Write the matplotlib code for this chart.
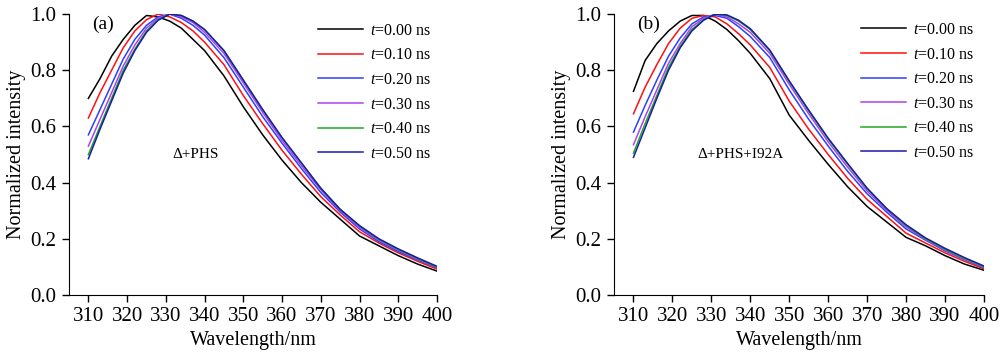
import matplotlib
matplotlib.use("Agg")
import matplotlib.pyplot as plt

plt.rcParams['font.family'] = ['Liberation Serif', 'DejaVu Serif']
plt.rcParams['mathtext.fontset'] = 'custom'
plt.rcParams['mathtext.rm'] = 'Liberation Serif'
plt.rcParams['mathtext.it'] = 'Liberation Serif:italic'

wavelength = [310, 313, 316, 319, 322, 325, 328, 331, 334, 337, 340, 345, 350,
              355, 360, 365, 370, 375, 380, 385, 390, 395, 400]

times = ["0.00", "0.10", "0.20", "0.30", "0.40", "0.50"]
colors = ["#000000", "#ff1010", "#2a40ff", "#b040f0", "#20a820", "#1a1aa8"]

# panel (a)  Delta+PHS
a_t000 = [0.70, 0.77, 0.85, 0.91, 0.96, 0.995, 0.99, 0.975, 0.95, 0.91, 0.87, 0.78, 0.67,
          0.57, 0.48, 0.40, 0.33, 0.27, 0.21, 0.175, 0.14, 0.11, 0.085]
a_t010 = [0.63, 0.72, 0.80, 0.88, 0.94, 0.98, 1.0, 0.99, 0.97, 0.94, 0.90, 0.82, 0.71,
          0.61, 0.515, 0.43, 0.35, 0.285, 0.225, 0.185, 0.15, 0.12, 0.092]
a_t020 = [0.57, 0.66, 0.75, 0.84, 0.91, 0.96, 0.99, 1.0, 0.985, 0.96, 0.925, 0.845, 0.74,
          0.635, 0.54, 0.45, 0.365, 0.295, 0.235, 0.19, 0.155, 0.125, 0.097]
a_t030 = [0.53, 0.625, 0.72, 0.815, 0.89, 0.95, 0.985, 1.0, 0.99, 0.97, 0.935, 0.86, 0.755,
          0.65, 0.55, 0.46, 0.375, 0.30, 0.24, 0.195, 0.16, 0.128, 0.099]
a_t040 = [0.50, 0.60, 0.70, 0.80, 0.875, 0.94, 0.98, 1.0, 0.995, 0.975, 0.945, 0.87, 0.765,
          0.66, 0.56, 0.47, 0.38, 0.305, 0.245, 0.198, 0.162, 0.13, 0.10]
a_t050 = [0.485, 0.59, 0.69, 0.79, 0.87, 0.935, 0.978, 1.0, 0.995, 0.975, 0.945, 0.87, 0.765,
          0.66, 0.56, 0.47, 0.38, 0.305, 0.247, 0.20, 0.164, 0.132, 0.102]

# panel (b)  Delta+PHS+I92A
b_t000 = [0.725, 0.835, 0.895, 0.94, 0.975, 0.995, 0.995, 0.975, 0.945, 0.905, 0.86, 0.77, 0.64,
          0.55, 0.465, 0.385, 0.315, 0.26, 0.205, 0.175, 0.14, 0.11, 0.088]
b_t010 = [0.645, 0.74, 0.82, 0.895, 0.95, 0.985, 0.995, 0.99, 0.965, 0.93, 0.89, 0.81, 0.69,
          0.59, 0.50, 0.415, 0.34, 0.28, 0.22, 0.185, 0.15, 0.12, 0.093]
b_t020 = [0.58, 0.675, 0.765, 0.85, 0.915, 0.965, 0.99, 0.995, 0.985, 0.955, 0.92, 0.845, 0.73,
          0.625, 0.53, 0.44, 0.36, 0.295, 0.235, 0.195, 0.157, 0.126, 0.097]
b_t030 = [0.535, 0.635, 0.73, 0.825, 0.895, 0.955, 0.985, 1.0, 0.99, 0.965, 0.935, 0.86, 0.75,
          0.645, 0.545, 0.455, 0.37, 0.302, 0.242, 0.198, 0.16, 0.128, 0.099]
b_t040 = [0.505, 0.61, 0.71, 0.81, 0.885, 0.945, 0.98, 1.0, 0.995, 0.975, 0.945, 0.87, 0.76,
          0.655, 0.555, 0.465, 0.378, 0.307, 0.247, 0.20, 0.163, 0.13, 0.101]
b_t050 = [0.49, 0.595, 0.70, 0.80, 0.88, 0.94, 0.978, 1.0, 0.997, 0.978, 0.948, 0.872, 0.762,
          0.658, 0.558, 0.468, 0.38, 0.308, 0.25, 0.203, 0.166, 0.133, 0.103]

panels = [
    ("(a)", "Δ+PHS", [a_t000, a_t010, a_t020, a_t030, a_t040, a_t050]),
    ("(b)", "Δ+PHS+I92A", [b_t000, b_t010, b_t020, b_t030, b_t040, b_t050]),
]

fig = plt.figure(figsize=(10, 3.52), dpi=100)
axes_rects = [[0.069, 0.162, 0.368, 0.798], [0.614, 0.162, 0.370, 0.798]]
legend_x = [0.677, 0.668]
legend_top = [0.969, 0.972]
note_x = [0.282, 0.225]

for i, (tag, note, series) in enumerate(panels):
    ax = fig.add_axes(axes_rects[i])
    for j, y in enumerate(series):
        ax.plot(wavelength, y, color=colors[j], lw=1.1, label="$t$=" + times[j] + " ns")
    ax.set_xlim(305, 400)
    ax.set_ylim(0, 1.0)
    ax.set_xticks(range(310, 401, 10))
    ax.set_yticks([0.0, 0.2, 0.4, 0.6, 0.8, 1.0])
    ax.set_yticklabels(["0.0", "0.2", "0.4", "0.6", "0.8", "1.0"])
    ax.spines['top'].set_visible(False)
    ax.spines['right'].set_visible(False)
    ax.tick_params(direction='out', length=5, width=1, labelsize=15, pad=4)
    ax.set_xlabel("Wavelength/nm", fontsize=14.5, labelpad=3)
    ax.set_ylabel("Normalized intensity", fontsize=14.5, labelpad=3)
    ax.text(0.063, 0.995, tag, transform=ax.transAxes, fontsize=14, va='top', ha='left')
    ax.text(note_x[i], 0.50, note, transform=ax.transAxes, fontsize=11, va='center', ha='left')
    ax.legend(loc='upper left', bbox_to_anchor=(legend_x[i], legend_top[i]), frameon=False,
              fontsize=11.5, handlelength=2.8, handletextpad=0.45, labelspacing=0.54,
              borderpad=0, borderaxespad=0)

fig.savefig("out.png", dpi=100)
